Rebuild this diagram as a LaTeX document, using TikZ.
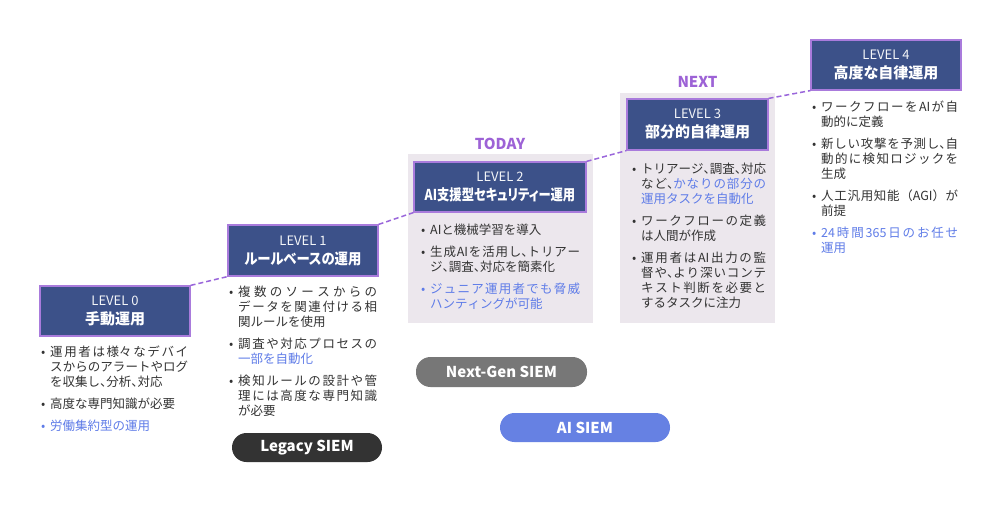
\documentclass[tikz,border=0pt]{standalone}
\usepackage{fontspec}
\usepackage{graphicx}
\setmainfont{Noto Sans CJK JP}
\newfontfamily\jpp{Noto Sans CJK JP}[RawFeature=+palt]
\XeTeXlinebreaklocale "ja"
\XeTeXlinebreakskip=0pt plus 8pt
\definecolor{boxblue}{HTML}{3C5189}
\definecolor{boxborder}{HTML}{A97BDC}
\definecolor{dashpurple}{HTML}{9A66DB}
\definecolor{labelpurple}{HTML}{9D62D6}
\definecolor{bggray}{HTML}{ECE7ED}
\definecolor{bodytext}{HTML}{333333}
\definecolor{hl}{HTML}{5F7CE8}
\definecolor{legacyc}{HTML}{333333}
\definecolor{nextgenc}{HTML}{777777}
\definecolor{aisiemc}{HTML}{6681E3}
\newcommand\tn{\makebox[0.5em][l]{、}}
\newcommand\levtxt[1]{{\fontsize{13}{15}\selectfont\color{white!94!boxblue}#1}}
\newcommand\tittxt[2][1]{{\jpp\bfseries\fontsize{15}{18}\selectfont\scalebox{#1}[1]{#2}}}
\newcommand\bitem[2][bodytext]{\par\noindent\hangindent=9pt\hangafter=1\makebox[9pt][l]{\color{#1}•}{\color{#1}#2}\par}
\newcommand\colbox[2]{\parbox[t]{#1}{\fontsize{12.5}{15}\selectfont\setlength\parskip{7pt}\tolerance=9000\hbadness=10000 #2}}
\begin{document}
\begin{tikzpicture}[x=1pt,y=-1pt,
  levelbox/.style={draw=boxborder, line width=1.2pt, fill=boxblue, minimum height=50pt, inner sep=0pt, align=center, text=white, font=\fontsize{12.5}{19}\selectfont},
  bgpanel/.style={fill=bggray, draw=none},
  toplabel/.style={text=labelpurple, font=\bfseries\fontsize{15}{18}\selectfont, inner sep=0pt},
  pill/.style={rounded corners=14.5pt, minimum height=29pt, inner sep=0pt, text=white, font=\bfseries\fontsize{15}{18}\selectfont},
  conn/.style={draw=dashpurple, line width=1.5pt, dash pattern=on 5pt off 3pt},
  bulletcol/.style={anchor=base west, inner sep=0pt, text=bodytext}]
\useasboundingbox (0,0) rectangle (1000,510);
\fill[white] (0,0) rectangle (1000,510);
% panels
\fill[bgpanel] (407.5,154) rectangle (592.5,323);
\fill[bgpanel] (620,93) rectangle (775,323);
% level boxes
\node[levelbox, minimum width=150pt] (b0) at (115,311) {\levtxt{LEVEL 0}\\\tittxt{手動運用}};
\node[levelbox, minimum width=150pt, minimum height=51pt] (b1) at (303,250.5) {\levtxt{LEVEL 1}\\\tittxt[0.89]{ルールベースの運用}};
\node[levelbox, minimum width=172pt] (b2) at (500,187) {\levtxt{LEVEL 2}\\\tittxt[0.82]{AI支援型セキュリティー運用}};
\node[levelbox, minimum width=141pt, minimum height=51pt] (b3) at (697.5,124.5) {\levtxt{LEVEL 3}\\\tittxt{部分的自律運用}};
\node[levelbox, minimum width=150pt] (b4) at (886,65) {\levtxt{LEVEL 4}\\\tittxt{高度な自律運用}};
% labels
\node[toplabel] (today) at (500,144) {TODAY};
\node[toplabel] (next) at (697.5,82) {NEXT};
% connectors
\draw[conn] (b0.north east) -- (b1.south west);
\draw[conn] (b1.north east) -- (b2.south west);
\draw[conn] (b2.north east) -- (b3.south west);
\draw[conn] (b3.north east) -- (b4.south west);
% bullet columns
\node[bulletcol] (c0) at (41,356.5) {\colbox{147pt}{%
\bitem{運用者は様々なデバイ\linebreak スからのアラートやログ\linebreak を収集し\tn 分析\tn 対応}%
\bitem{高度な専門知識が必要}%
\bitem[hl]{労働集約型の運用}}};
\node[bulletcol] (c1) at (229,296.5) {\colbox{148pt}{%
\bitem{複数のソースからの\linebreak データを関連付ける相\linebreak 関ルールを使用}%
\bitem{調査や対応プロセスの\linebreak{\color{hl}一部を自動化}}%
\bitem{検知ルールの設計や管\linebreak 理には高度な専門知識\linebreak が必要}}};
\node[bulletcol] (c2) at (421,234.5) {\colbox{159pt}{%
\bitem{AIと機械学習を導入}%
\bitem{生成AIを活用し\tn トリアー\linebreak ジ\tn 調査\tn 対応を簡素化}%
\bitem[hl]{ジュニア運用者でも脅威\linebreak ハンティングが可能}}};
\node[bulletcol] (c3) at (632,173.5) {\colbox{134pt}{%
\bitem{トリアージ\tn 調査\tn 対応\linebreak など\tn{\color{hl}かなりの部分の}\linebreak{\color{hl}運用タスクを自動化}}%
\bitem{ワークフローの定義\linebreak は人間が作成}%
\bitem{運用者はAI出力の監\linebreak 督や\tn より深いコンテ\linebreak キスト判断を必要と\linebreak するタスクに注力}}};
\node[bulletcol] (c4) at (812,111.5) {\colbox{146pt}{%
\bitem{ワークフローをAIが自\linebreak 動的に定義}%
\bitem{新しい攻撃を予測し\tn 自\linebreak 動的に検知ロジックを\linebreak 生成}%
\bitem{人工汎用知能（AGI）が\linebreak 前提}%
\bitem[hl]{24時間365日のお任せ\linebreak 運用}}};
% pills
\node[pill, fill=legacyc, minimum width=150pt] (legacy) at (307,447.5) {Legacy SIEM};
\node[pill, fill=nextgenc, minimum width=171pt, minimum height=30pt] (nextgen) at (501.5,372) {Next-Gen SIEM};
\node[pill, fill=aisiemc, minimum width=170pt] (aisiem) at (585,427.5) {AI SIEM};
\end{tikzpicture}
\end{document}
